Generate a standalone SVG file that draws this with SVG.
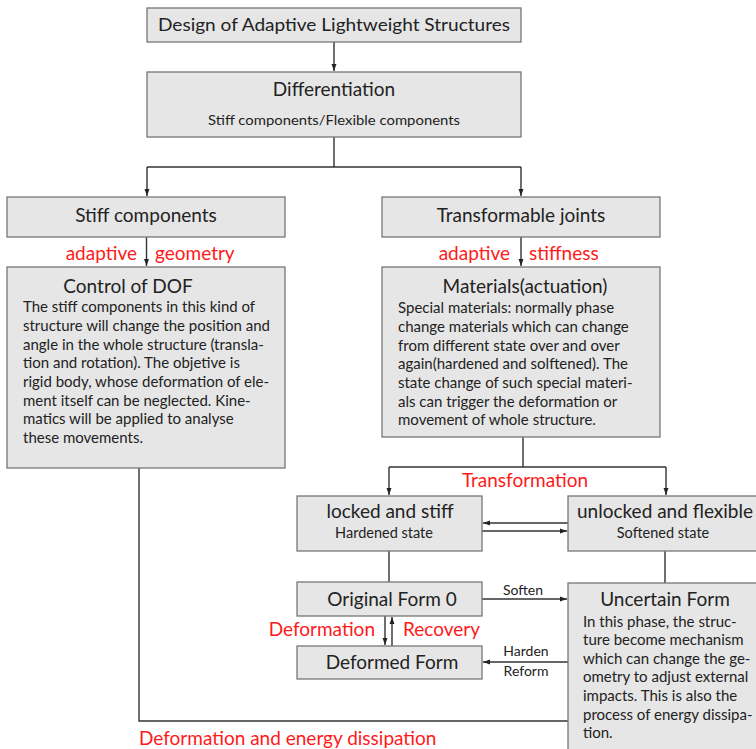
<svg xmlns="http://www.w3.org/2000/svg" width="756" height="749" viewBox="0 0 756 749">
<defs>
<style>
.box{fill:#e6e6e6;stroke:#777;stroke-width:1.3}
.ln{fill:none;stroke:#333;stroke-width:1.4}
text{font-family:Lato,"Open Sans","Liberation Sans",sans-serif;fill:#222}
.t19{font-size:19px}
.t14{font-size:14.5px}
.b{font-size:15px}
.red{fill:#ff1a1a;font-size:19px}
.sm{font-size:14px}
</style>
<marker id="ah" viewBox="0 0 10 10" refX="10" refY="5" markerWidth="7" markerHeight="7" markerUnits="userSpaceOnUse" orient="auto"><path d="M0,1.5 L10,5 L0,8.5 z" fill="#222"/></marker>
</defs>
<rect width="756" height="749" fill="#fff"/>
<g id="connectors">
<path class="ln" d="M334,42 V71" marker-end="url(#ah)"/>
<path class="ln" d="M334,137 V167 M147,167 H521"/>
<path class="ln" d="M147,167 V196" marker-end="url(#ah)"/>
<path class="ln" d="M521,167 V196" marker-end="url(#ah)"/>
<path class="ln" d="M146.5,237 V266" marker-end="url(#ah)"/>
<path class="ln" d="M521,237 V266" marker-end="url(#ah)"/>
<path class="ln" d="M523,437 V467 M389,467 H666"/>
<path class="ln" d="M389,467 V495" marker-end="url(#ah)"/>
<path class="ln" d="M666,467 V495" marker-end="url(#ah)"/>
<path class="ln" d="M568,523 H483" marker-end="url(#ah)"/>
<path class="ln" d="M482,531 H567" marker-end="url(#ah)"/>
<path class="ln" d="M389,551 V582 M665,551 V583"/>
<path class="ln" d="M482,599 H567" marker-end="url(#ah)"/>
<path class="ln" d="M385,616 V645" marker-end="url(#ah)"/>
<path class="ln" d="M392,646 V617" marker-end="url(#ah)"/>
<path class="ln" d="M568,662 H483" marker-end="url(#ah)"/>
<path class="ln" d="M139,468 V721 H568"/>
<text class="red" x="137" y="260" text-anchor="end">adaptive</text>
<text class="red" x="155" y="260">geometry</text>
<text class="red" x="510" y="260" text-anchor="end">adaptive</text>
<text class="red" x="529" y="260">stiffness</text>
<text class="red" x="525" y="487" text-anchor="middle">Transformation</text>
<text class="sm" x="523" y="595" text-anchor="middle">Soften</text>
<text class="red" x="375" y="636" text-anchor="end">Deformation</text>
<text class="red" x="403" y="636">Recovery</text>
<text class="sm" x="526" y="656" text-anchor="middle">Harden</text>
<text class="sm" x="526" y="676" text-anchor="middle">Reform</text>
<text class="red" x="139" y="745">Deformation and energy dissipation</text>
</g>
<g id="n-design">
<rect class="box" x="147" y="8" width="374" height="34"/>
<text x="334" y="31" font-size="18" text-anchor="middle" textLength="352" lengthAdjust="spacingAndGlyphs">Design of Adaptive Lightweight Structures</text>
</g>
<g id="n-diff">
<rect class="box" x="147" y="72" width="374" height="65"/>
<text x="334" y="96" font-size="19" text-anchor="middle">Differentiation</text>
<text x="334" y="125" font-size="14" text-anchor="middle" textLength="252" lengthAdjust="spacingAndGlyphs">Stiff components/Flexible components</text>
</g>
<g id="n-stiff">
<rect class="box" x="7" y="197" width="278" height="40"/>
<text class="t19" x="146" y="222" text-anchor="middle">Stiff components</text>
</g>
<g id="n-dof">
<rect class="box" x="7" y="267" width="278" height="201"/>
<text class="t19" x="128" y="293" text-anchor="middle">Control of DOF</text>
<text class="b" x="23" y="312">The stiff components in this kind of</text>
<text class="b" x="23" y="331">structure will change the position and</text>
<text class="b" x="23" y="350">angle in the whole structure (transla-</text>
<text class="b" x="23" y="368">tion and rotation). The objetive is</text>
<text class="b" x="23" y="387">rigid body, whose deformation of ele-</text>
<text class="b" x="23" y="406">ment itself can be neglected. Kine-</text>
<text class="b" x="23" y="424">matics will be applied to analyse</text>
<text class="b" x="23" y="443">these movements.</text>
</g>
<g id="n-joints">
<rect class="box" x="382" y="197" width="278" height="40"/>
<text class="t19" x="521" y="222" text-anchor="middle">Transformable joints</text>
</g>
<g id="n-materials">
<rect class="box" x="382" y="267" width="278" height="170"/>
<text class="t19" x="525" y="293" text-anchor="middle">Materials(actuation)</text>
<text class="b" x="398" y="313">Special materials: normally phase</text>
<text class="b" x="398" y="332">change materials which can change</text>
<text class="b" x="398" y="351">from different state over and over</text>
<text class="b" x="398" y="369">again(hardened and solftened). The</text>
<text class="b" x="398" y="388">state change of  such special materi-</text>
<text class="b" x="398" y="407">als can trigger the deformation or</text>
<text class="b" x="398" y="425">movement of whole structure.</text>
</g>
<g id="n-locked">
<rect class="box" x="297" y="496" width="185" height="55"/>
<text class="t19" x="390" y="518" text-anchor="middle">locked and stiff</text>
<text class="t14" x="384" y="538" text-anchor="middle">Hardened state</text>
</g>
<g id="n-unlocked">
<rect class="box" x="568" y="496" width="200" height="55"/>
<text class="t19" x="665" y="518" text-anchor="middle">unlocked and flexible</text>
<text class="t14" x="663" y="538" text-anchor="middle">Softened state</text>
</g>
<g id="n-original">
<rect class="box" x="297" y="582" width="185" height="34"/>
<text class="t19" x="392" y="606" text-anchor="middle">Original Form 0</text>
</g>
<g id="n-deformed">
<rect class="box" x="297" y="646" width="185" height="33"/>
<text class="t19" x="392" y="669" text-anchor="middle">Deformed Form</text>
</g>
<g id="n-uncertain">
<rect class="box" x="568" y="583" width="200" height="180"/>
<text class="t19" x="665" y="606" text-anchor="middle">Uncertain Form</text>
<text class="b" x="583" y="627">In this phase, the struc-</text>
<text class="b" x="583" y="645">ture become mechanism</text>
<text class="b" x="583" y="664">which can change the ge-</text>
<text class="b" x="583" y="682">ometry to adjust external</text>
<text class="b" x="583" y="701">impacts. This is also the</text>
<text class="b" x="583" y="720">process of energy dissipa-</text>
<text class="b" x="583" y="738">tion.</text>
</g>
</svg>
